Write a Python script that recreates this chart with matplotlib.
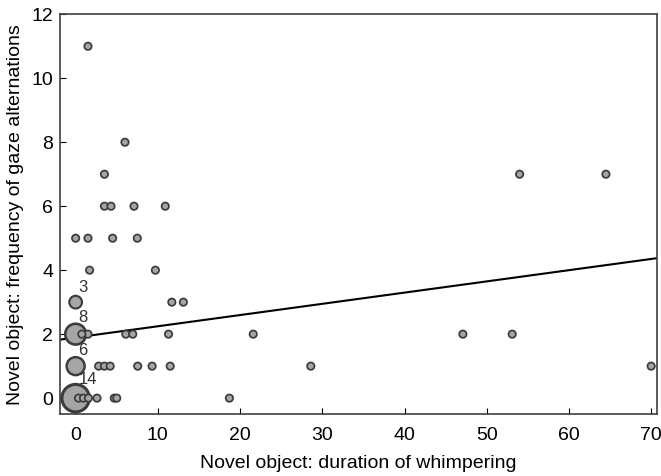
import matplotlib
matplotlib.use("Agg")
import matplotlib.pyplot as plt
import numpy as np

plt.rcParams['font.family'] = ['Liberation Sans', 'DejaVu Sans']

# duration of whimpering, gaze alternations, number of dogs at that point
whimper = [1.5, 6.0, 3.5, 54.0, 64.5, 3.5, 4.3, 7.1, 10.9,
           0.0, 1.5, 4.5, 7.5, 1.7, 9.7,
           0.0, 11.7, 13.1,
           0.0, 0.75, 1.5, 6.1, 6.95, 11.3, 21.6, 47.1, 53.1,
           0.0, 2.8, 3.5, 4.2, 7.55, 9.3, 11.5, 28.6, 70.0,
           0.0, 0.35, 0.95, 1.55, 2.6, 4.7, 5.0, 18.7]
gaze = [11, 8, 7, 7, 7, 6, 6, 6, 6,
        5, 5, 5, 5, 4, 4,
        3, 3, 3,
        2, 2, 2, 2, 2, 2, 2, 2, 2,
        1, 1, 1, 1, 1, 1, 1, 1, 1,
        0, 0, 0, 0, 0, 0, 0, 0]
count = [1, 1, 1, 1, 1, 1, 1, 1, 1,
         1, 1, 1, 1, 1, 1,
         3, 1, 1,
         8, 1, 1, 1, 1, 1, 1, 1, 1,
         6, 1, 1, 1, 1, 1, 1, 1, 1,
         14, 1, 1, 1, 1, 1, 1, 1]

x = np.array(whimper)
y = np.array(gaze)
n = np.array(count)

fig = plt.figure(figsize=(6.61, 4.76), dpi=100)
ax = fig.add_axes([0.0908, 0.130, 0.903, 0.840])

# biggest bubbles first so the small ones stay on top
order = np.argsort(-n)
ax.scatter(x[order], y[order], s=28 * n[order], facecolor='#a5a5a5',
           edgecolor='#3c3c3c', linewidth=0.9 + 0.35 * np.sqrt(n[order]),
           zorder=3)

for xi, yi, ni in zip(x, y, n):
    if ni > 1:
        ax.annotate(str(ni), (xi, yi), xytext=(2, 5 + 1.3 * np.sqrt(ni)),
                    textcoords='offset points', fontsize=12, color='#333333',
                    zorder=4)

# least squares line over all dogs
xr = np.repeat(x, n)
yr = np.repeat(y, n)
b, a = np.polyfit(xr, yr, 1)
xs = np.array([-1.9, 70.7])
ax.plot(xs, a + b * xs, color='black', linewidth=1.5, zorder=2)

ax.set_xlim(-1.9, 70.7)
ax.set_ylim(-0.5, 12)
ax.set_xticks(np.arange(0, 71, 10))
ax.set_yticks(np.arange(0, 13, 2))
ax.tick_params(direction='in', labelsize=14, length=4, width=0.8)
ax.tick_params(axis='x', pad=9)
ax.tick_params(axis='y', pad=5)
for s in ax.spines.values():
    s.set_color('#404040')
    s.set_linewidth(1.2)

ax.set_xlabel('Novel object: duration of whimpering', fontsize=14,
              labelpad=8)
ax.set_ylabel('Novel object: frequency of gaze alternations', fontsize=14,
              labelpad=5)

fig.savefig('out.png', dpi=100)
